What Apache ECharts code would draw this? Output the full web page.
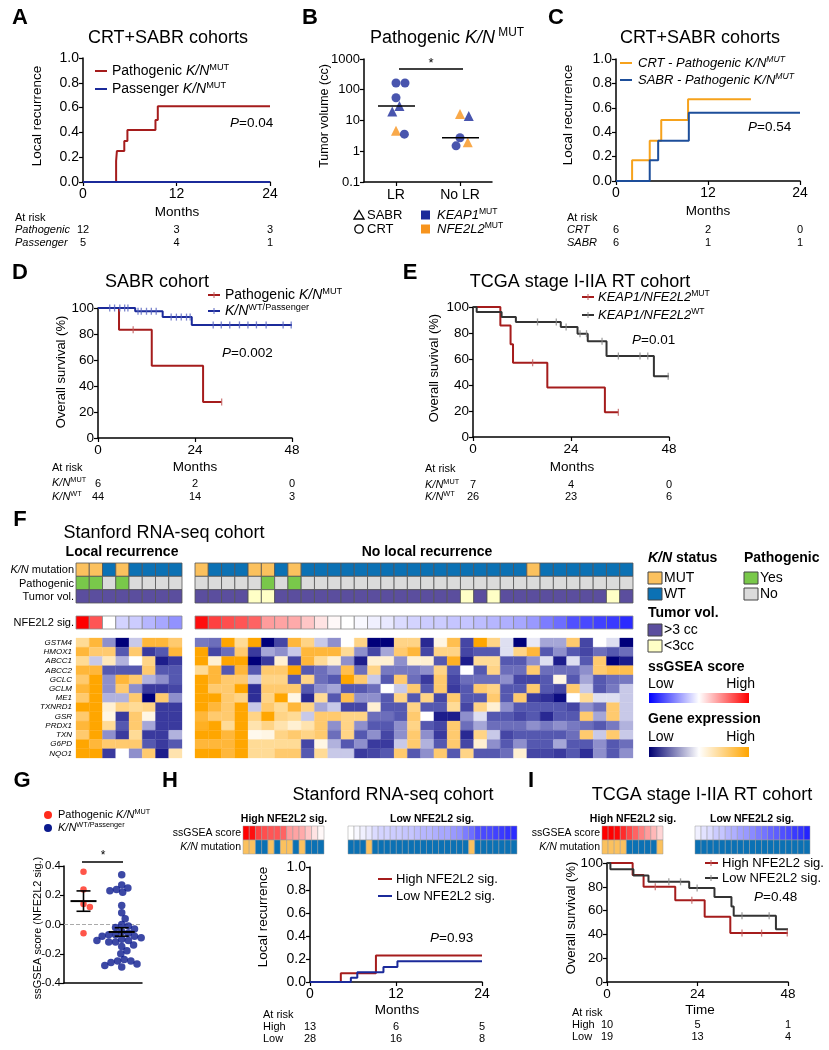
<!DOCTYPE html>
<html><head><meta charset="utf-8">
<script src="https://cdn.jsdelivr.net/npm/echarts@6/dist/echarts.min.js"></script>
<style>html,body{margin:0;padding:0;background:#fff}#c{width:829px;height:1050px}</style>
</head><body><div id="c"></div>
<script>
// ================= DATA =================
// Panel A
const aTicks = [0, 12, 24];
const aPathT = [0, 4.25, 4.35, 5.3, 5.7, 9.3, 9.6, 24];
const aPathV = [0, 0.17, 0.25, 0.33, 0.42, 0.5, 0.61, 0.61];
const aPassT = [0, 24];
const aPassV = [0, 0];
const aRiskPath = [12, 3, 3];
const aRiskPass = [5, 4, 1];
// Panel B
const bGroups = ['LR', 'No LR'];
const bVolume = [166, 166, 55, 29.5, 19.6, 4.6, 3.6, 16.4, 14, 2.75, 1.95, 1.5];
const bGroupIdx = [0, 0, 0, 0, 0, 0, 0, 1, 1, 1, 1, 1];
const bCohort = ['CRT','CRT','CRT','SABR','SABR','SABR','CRT','SABR','SABR','CRT','SABR','CRT'];
const bGene = ['KEAP1','KEAP1','KEAP1','KEAP1','KEAP1','NFE2L2','KEAP1','NFE2L2','KEAP1','KEAP1','NFE2L2','KEAP1'];
// Panel C
const cCrtT = [0, 2.1, 4.4, 5.9, 9.4, 17.6];
const cCrtV = [0, 0.17, 0.33, 0.5, 0.67, 0.67];
const cSabrT = [0, 4.4, 5.5, 9.5, 24];
const cSabrV = [0, 0.17, 0.33, 0.56, 0.56];
const cRiskCrt = [6, 2, 0];
const cRiskSabr = [6, 1, 1];
// Panel D
const survTicks = [0, 24, 48];
const dPathT = [0, 5.2, 13.3, 26, 30.6];
const dPathV = [100, 83.3, 55.5, 27.7, 27.7];
const dPathCens = [8.7, 30.6];
const dWtT = [0, 9.2, 16, 23.2, 48];
const dWtV = [100, 97.5, 93, 87, 87];
const dWtCens = [2.9, 4.1, 5.4, 6.6, 7.4, 9.9, 10.7, 12, 13.2, 14.4, 18.1, 19.4, 20.6, 21.9, 22.8, 28.5, 30.5, 32.6, 35, 37.1, 39.2, 41.6, 45.8, 47.8];
const dRiskMut = [6, 2, 0];
const dRiskWt = [44, 14, 3];
// Panel E
const eMutT = [0, 6.7, 9.2, 9.8, 18.2, 32.3, 35.6];
const eMutV = [100, 85.7, 71.4, 57.1, 38.1, 19, 19];
const eMutCens = [14.6, 35.6];
const eWtT = [0, 0.9, 7, 10.5, 21.5, 25.6, 28.1, 32.7, 44.3, 48];
const eWtV = [100, 96.2, 92.3, 88.5, 84.6, 79.5, 73.6, 62.3, 46.7, 46.7];
const eWtCens = [15.8, 20.4, 22.8, 26.2, 27.8, 31.6, 35.6, 40.9, 42.8, 47.8];
const eRiskMut = [7, 4, 0];
const eRiskWt = [26, 23, 6];
// Panel F
const geneNames = ['GSTM4','HMOX1','ABCC1','ABCC2','GCLC','GCLM','ME1','TXNRD1','GSR','PRDX1','TXN','G6PD','NQO1'];
const lrKN    = [1,1,0,1,0,0,0,0];
const lrPath  = [1,1,0,1,0,0,0,0];
const lrTumor = [1,1,1,1,1,1,1,1];
const nlrKN    = [1,0,0,0,1,1,0,1,0,0,0,0,0,0,0,0,0,0,0,0,0,0,0,0,0,1,0,0,0,0,0,0,0];
const nlrPath  = [0,0,0,0,0,1,0,1,0,0,0,0,0,0,0,0,0,0,0,0,0,0,0,0,0,0,0,0,0,0,0,0,0];
const nlrTumor = [1,1,1,1,0,0,1,1,1,1,1,1,1,1,1,1,1,1,1,1,0,1,0,1,1,1,1,1,1,1,1,0,1];
const lrSig  = [0.36, 0.24, 0.0, -0.06, -0.07, -0.1, -0.12, -0.15];
const nlrSig = [0.34, 0.27, 0.25, 0.24, 0.22, 0.14, 0.13, 0.12, 0.08, 0.04, 0.01, 0.0, -0.01, -0.02, -0.03, -0.05, -0.06, -0.07, -0.07, -0.08, -0.08, -0.09, -0.1, -0.11, -0.12, -0.14, -0.18, -0.2, -0.24, -0.25, -0.26, -0.27, -0.29];
const lrGenes = [
  [1, 2, -1, -3, -0.5, 2, 2, 1.5],
  [2, 1.5, 1.5, -1.5, 1.5, -2, -1.5, 2],
  [1, -0.5, 0.7, -0.7, 0, 1.2, -2.5, -2],
  [2, 2, -1.5, -1.5, -1.5, 1.5, -1.5, -1.5],
  [1.5, 2.5, -1, 2, 1.5, -0.7, -1, -1.5],
  [2, 2.5, -1, 1.5, -1, -2, -2, -1.8],
  [1.5, 2.5, -0.7, -0.7, 1.5, -3, 1.5, -1],
  [2.5, 2.5, 0.5, 1.2, 1, 1.2, -2, -2],
  [1.5, 2.5, 0.3, -2, 1.5, 0.3, -2, -2],
  [2, 2.5, 1, -1.5, 1.5, -0.8, -2, -2],
  [1.5, 2.5, -1, -2, 1, -2, -2, -0.7],
  [2.5, 2, 1.5, 1.5, 1.5, -1.5, -2, -1.5],
  [2.5, 2.5, -2, 0, -1, 1.5, -2.5, 0.8]
];
const nlrGenes = [
  [-1.2,-1.3,2.5,1,2.5,-3,-1.8,2,1.2,-0.5,-1,0,1.2,-3,-3,1.2,1.2,-2.3,0.3,1.8,-1.8,2.5,1.2,-0.3,-3,-0.2,-0.8,-0.8,1.5,-1.8,0,-0.3,-3],
  [2.5,-1.8,-1.3,1.5,-2,-0.8,-1,-0.5,2,2,2,1,-1,-1.8,-0.8,1.5,2,-1.8,1.2,1.2,-1.8,-1.5,-1.5,-0.3,1.2,2,-1.5,-1,-1.5,-1.8,-1.3,-1.5,-1.3],
  [2.5,0.5,2.5,2.5,-3,-2,0.5,-1.8,2,1,0.5,-1,-2.5,0.5,0.5,-1,0.5,0.5,-1.5,2.2,-2.5,1,1,-1.5,-1.5,-1,-0.3,-2.5,-0.3,-1.5,1.5,-3,-2.5],
  [1,2,-1.5,2,-1.5,1.5,1.5,2.5,-1.5,-1.3,-1,1.8,-1.3,1.2,-1.2,-1.2,-1.2,-1,1.2,-1.5,0,-1.5,1.2,-1.3,-1.3,1.5,-1.3,-1.3,-1.3,-1,1.5,1.8,1.8],
  [2.5,2,1.5,1.5,-0.5,1.2,1.2,-1.5,1.2,-1.3,-1.5,2.5,1.5,-0.5,-1.5,1.5,-1.3,-2,1.5,-1.8,-1.3,-1.3,-1.3,-1,-1.8,-1.8,-1.5,0.3,-1.5,-0.8,-1.5,-1.3,-1.2],
  [2.5,1.5,1.5,2.5,-2.2,1.5,1.5,1.5,-1.5,-1,-0.8,-1.5,-1.5,-1.3,0,-0.5,1.5,-1.5,1.5,-2,-1.5,1.5,1.2,-1.5,-1.5,1.5,-1.5,-1.8,1.5,-0.5,-1.5,-1.2,-0.5],
  [2.5,2.5,1.5,1.2,-2.2,1.2,2.5,0.3,-2.3,1,-1.5,1.8,-1,-1,-1.5,1.2,-1.5,1.2,-1.8,1.5,-1.5,-1.5,1.5,-1.5,1.5,-2,-2.2,-2.8,0,1,-0.3,-0.3,-0.5],
  [2.5,2,1.5,2.5,-0.5,1.5,1,2,1.2,-0.8,-0.5,-1.8,-1.8,0.5,-1.5,-1.5,1.2,-1.5,-1.5,1,-1.8,1.2,0.5,-1,-1.5,-1.5,-1.5,-1.5,-1.8,-1,-1.3,1.5,-0.5],
  [2,1.5,1.5,2.5,1.2,2.5,1.2,1,-0.5,1.5,1.5,1.2,1.2,-1.3,-1.3,-1.5,1.5,0,-2.5,-2.5,-1,-0.3,-1.5,-1.5,-1.8,-1.5,-2.3,-1.5,-1.5,1.5,-0.8,1.5,-0.5],
  [2.2,2.5,1,2.5,0.8,1.2,0.8,0.5,0.8,1.5,-1,1.2,-1,-1.5,-1.5,-1,1.2,-1.5,-1.8,1.5,-1.3,-0.8,-1.3,-1.3,-1.3,-1,-1.2,-1,-1.2,-1.3,-1.5,-1.2,-0.7],
  [2.5,2.5,2,2.5,0.2,0.3,1.2,1.5,1.2,1.5,-1.3,1.2,-1.5,-1,-1.8,-1,1.5,-1,-2,1.5,-2.3,1.2,-0.5,-1.8,-1.5,-1.5,-1.5,-1.5,-1.3,1.5,-0.5,1.5,-0.5],
  [2,2,2,2.5,1,1,1,1,-1.8,0.3,-0.7,-1.5,-1,-2,-2,-0.5,1.5,-0.7,-1.5,1.5,-1.8,0.5,-1,-1.5,-1,-1.5,-1.5,-0.8,-1.5,-1.5,-1,-1.5,-1.3],
  [2.5,2.5,2,2.5,1,1,1.5,1.5,-1.5,1,-0.5,-0.5,-2,-1.8,-1.5,1.5,-1.5,-1,1.5,-1.5,1.2,-1.5,-1.5,-1.3,0.5,-1.8,-1.8,-2,-1.5,-2.2,-1,-1.5,-1]
];
// Panel G
const gRed  = [0.36, 0.24, 0.14, 0.12, -0.06];
const gBlue = [0.34, 0.27, 0.25, 0.24, 0.23, 0.22, 0.13, 0.08, 0.04, 0.0, -0.01, -0.02, -0.03, -0.05, -0.06, -0.07, -0.07, -0.08, -0.08, -0.09, -0.1, -0.11, -0.11, -0.12, -0.12, -0.14, -0.15, -0.18, -0.2, -0.24, -0.25, -0.25, -0.26, -0.27, -0.28, -0.29];
// Panel H
const hSigHigh = [0.36, 0.34, 0.27, 0.25, 0.24, 0.24, 0.22, 0.14, 0.13, 0.12, 0.08, 0.04, 0.01];
const hKNHigh  = [1,1,0,0,1,0,1,1,0,1,0,0,0];
const hSigLow  = [0.0, -0.01, -0.02, -0.03, -0.05, -0.06, -0.06, -0.07, -0.07, -0.08, -0.08, -0.09, -0.1, -0.1, -0.11, -0.12, -0.12, -0.14, -0.15, -0.18, -0.2, -0.24, -0.25, -0.25, -0.26, -0.27, -0.28, -0.29];
const hKNLow   = [0,0,0,1,0,0,0,0,0,0,0,0,0,0,0,0,0,0,0,0,1,0,0,0,0,0,0,0];
const hHighT = [0, 4.3, 9.2, 24];
const hHighV = [0, 0.077, 0.23, 0.23];
const hLowT = [0, 5.7, 6.6, 10.25, 12.2, 24];
const hLowV = [0, 0.036, 0.085, 0.13, 0.18, 0.18];
const hRiskHigh = [13, 6, 5];
const hRiskLow = [28, 16, 8];
// Panel I
const iSigHigh = [0.42, 0.38, 0.35, 0.3, 0.26, 0.22, 0.18, 0.14, 0.1, 0.06];
const iKNHigh  = [1,1,1,1,0,0,0,0,0,1];
const iSigLow  = [-0.02, -0.04, -0.05, -0.07, -0.08, -0.1, -0.11, -0.13, -0.14, -0.16, -0.18, -0.19, -0.21, -0.22, -0.24, -0.25, -0.27, -0.28, -0.3];
const iKNLow   = [0,0,0,0,0,0,0,0,0,0,0,0,0,0,0,0,0,0,0];
const iHighT = [0, 6.8, 9.7, 18.1, 25.9, 32.7, 48];
const iHighV = [100, 90, 80, 68.6, 54.9, 41.1, 41.1];
const iHighCens = [12.8, 22.5, 35.8, 41, 47.8];
const iLowT = [0, 0.9, 7, 11, 21.8, 28.5, 33, 33.6, 44.8, 48];
const iLowV = [100, 94.7, 89.5, 84.2, 78.9, 71.4, 63.5, 55.6, 44.4, 44.4];
const iLowCens = [16.4, 19.5, 23.9, 35.8, 43];
const iRiskHigh = [10, 5, 1];
const iRiskLow = [19, 13, 4];

// ================= STYLE =================
const FF = '"Liberation Sans", Arial, Helvetica, sans-serif';
const RED = '#a51c1c', NAVY = '#1b2a9a', ORANGE = '#f6a21c', CBLUE = '#1d4e9a', DARK = '#333333';
const MUTc = '#fbc15e', WTc = '#0b71b4', YESc = '#79c84a', NOc = '#dbdbdb', BIGc = '#5b4e9e', SMALLc = '#ffffc6';
const sigStops = [[-0.3, '#2424ff'], [0, '#ffffff'], [0.36, '#ff0000']];
const geneStops = [[-3,'#00007a'],[-2,'#3a3a9e'],[-1.5,'#5558b0'],[-1,'#8e8fcc'],[-0.5,'#c8c9e8'],[0,'#ffffff'],[0.5,'#fff0d2'],[1,'#ffdb96'],[1.5,'#ffca6e'],[2,'#ffb73a'],[2.5,'#ffa600']];

function hex2rgb(h){ h=h.replace('#',''); return [parseInt(h.slice(0,2),16),parseInt(h.slice(2,4),16),parseInt(h.slice(4,6),16)]; }
function ramp(stops, v){
  if (v <= stops[0][0]) return stops[0][1];
  const last = stops[stops.length-1]; if (v >= last[0]) return last[1];
  for (let i=1;i<stops.length;i++){ if (v <= stops[i][0]) { const a=stops[i-1][0], b=stops[i][0]; const f=(v-a)/(b-a); const A=hex2rgb(stops[i-1][1]), B=hex2rgb(stops[i][1]); return 'rgb('+A.map((x,k)=>Math.round(x+(B[k]-x)*f)).join(',')+')'; } }
  return last[1];
}

// ================= LAYOUT HELPERS =================
const grids=[], xAxes=[], yAxes=[], series=[], G=[];
const GR = {};
function addGrid(name, r){ GR[name]=r; grids.push({left:r[0], top:r[1], width:r[2], height:r[3], containLabel:false, outerBoundsMode:'none'}); return grids.length-1; }
const axLine = {show:true, onZero:false, lineStyle:{color:'#000', width:1.5}};
function axTick(show){ return {show, length:4, inside:false, alignWithLabel:true, lineStyle:{color:'#000', width:1.2}}; }
function axLab(fs, fmt, margin){ const o={show:true, fontSize:fs, fontFamily:FF, color:'#000', margin: margin==null?4:margin}; if (fmt) o.formatter=fmt; return o; }
function kmGrid(name, r, xmax, xint, ymax, yint, fs, yfmt){
  const g = addGrid(name, r);
  xAxes.push({gridIndex:g, type:'value', position:'bottom', min:0, max:xmax, interval:xint, axisLine:axLine, axisTick:axTick(true), axisLabel:axLab(fs,null,5), splitLine:{show:false}});
  yAxes.push({gridIndex:g, type:'value', position:'left', min:0, max:ymax, interval:yint, axisLine:axLine, axisTick:axTick(true), axisLabel:axLab(fs,yfmt,4), splitLine:{show:false}});
  return g;
}
function heatGrid(name, r, ncol, nrow){
  const g = addGrid(name, r);
  xAxes.push({gridIndex:g, type:'category', data:[...Array(ncol).keys()], show:false});
  yAxes.push({gridIndex:g, type:'category', data:[...Array(nrow).keys()], show:false, inverse:true});
  return g;
}
function kmLine(g, ts, vs, color){
  series.push({type:'line', xAxisIndex:g, yAxisIndex:g, step:'end', symbol:'none', clip:false, silent:true, z:3,
    data: ts.map((t,i)=>[t, vs[i]]), lineStyle:{color, width:2}, itemStyle:{color}});
}
function kmAt(ts, vs, t){ let v=vs[0]; for (let i=0;i<ts.length;i++) if (ts[i] <= t) v = vs[i]; return v; }
function censor(g, ts, vs, cens, color){
  series.push({type:'scatter', xAxisIndex:g, yAxisIndex:g, symbol:'rect', symbolSize:[1.3,7], clip:false, silent:true, z:4,
    data: cens.map(t=>[t, kmAt(ts,vs,t)]), itemStyle:{color}});
}
function cells(g, data, colorFn, stroke, sw){
  series.push({type:'custom', xAxisIndex:g, yAxisIndex:g, data, silent:true, clip:false, z:2,
    renderItem: function(params, api){
      const x=api.value(0), y=api.value(1), v=api.value(2);
      const c=api.coord([x,y]), s=api.size([1,1]);
      const fill = colorFn(v, y);
      return {type:'rect', shape:{x:c[0]-s[0]/2, y:c[1]-s[1]/2, width:s[0], height:s[1]},
        style:{fill, stroke: stroke || fill, lineWidth: stroke ? sw : 0.3}};
    }});
}
function swarm(vals, d, toPx){
  const order = vals.map((v,i)=>i).sort((a,b)=>vals[b]-vals[a]);
  const placed=[], off=new Array(vals.length);
  for (const i of order){
    const y = toPx(vals[i]); const cands=[0];
    for (const p of placed){ const dy=Math.abs(p.y-y); if (dy<d){ const dx=Math.sqrt(d*d-dy*dy); cands.push(p.x+dx, p.x-dx); } }
    cands.sort((a,b)=>Math.abs(a)-Math.abs(b));
    let chosen=0;
    for (const c of cands){ if (placed.every(p=>(p.x-c)*(p.x-c)+(p.y-y)*(p.y-y) >= d*d-0.01)) { chosen=c; break; } }
    placed.push({x:chosen, y}); off[i]=chosen;
  }
  return off;
}
function rich(fs, c){
  c = c || '#000';
  const base = {fontFamily:FF, fontSize:fs, lineHeight:Math.round(fs*1.2), fill:c, color:c};
  const sfs = Math.round(fs*0.66*10)/10, slh = Math.round(fs*0.62);
  return {
    n: Object.assign({}, base),
    i: Object.assign({}, base, {fontStyle:'italic'}),
    b: Object.assign({}, base, {fontWeight:'bold'}),
    bi: Object.assign({}, base, {fontWeight:'bold', fontStyle:'italic'}),
    s: {fontFamily:FF, fontSize:sfs, lineHeight:slh, verticalAlign:'top', fill:c, color:c},
    si: {fontFamily:FF, fontSize:sfs, lineHeight:slh, verticalAlign:'top', fontStyle:'italic', fill:c, color:c}
  };
}
function T(x, y, text, fs, o){
  o = o || {};
  G.push({type:'text', x, y, rotation:o.rot||0, z:100, silent:true,
    style:{text, fontFamily:FF, fontSize:fs, fontWeight:o.fw||'normal', fontStyle:o.it?'italic':'normal', fill:o.c||'#000',
      align:o.al||'left', verticalAlign:'middle', rich:rich(fs, o.c)}});
}
function L(x1,y1,x2,y2,color,w,dash){
  G.push({type:'line', z:100, silent:true, shape:{x1,y1,x2,y2}, style:{stroke:color||'#000', lineWidth:w||1.5, lineDash: dash||null}});
}
function Rc(x,y,w,h,fill,stroke,sw){
  G.push({type:'rect', z:100, silent:true, shape:{x,y,width:w,height:h}, style:{fill, stroke:stroke||null, lineWidth:sw||1}});
}
function risk(name, xmax, ticks, y, vals, fs){
  const r = GR[name];
  vals.forEach((v,i)=>T(r[0] + ticks[i]/xmax*r[2], y, String(v), fs, {al:'center'}));
}
const fmt1 = v => v.toFixed(1);

// ================= GRIDS =================
const gA = kmGrid('A', [83, 58, 187, 124], 24, 12, 1, 0.2, 14, fmt1);
// B
const gB = addGrid('B', [364, 59, 128, 123]);
xAxes.push({gridIndex:gB, type:'value', position:'bottom', min:-0.5, max:1.5, show:false});
yAxes.push({gridIndex:gB, type:'log', position:'left', logBase:10, min:0.1, max:1000, axisLine:axLine, axisTick:axTick(true),
  axisLabel:axLab(13, v => v >= 1 ? String(Math.round(v)) : String(+(+v).toPrecision(2)), 4), splitLine:{show:false}, minorTick:{show:false}});
const gC = kmGrid('C', [616, 59, 184, 122], 24, 12, 1, 0.2, 14, fmt1);
const gD = kmGrid('D', [98, 308, 194, 130], 48, 24, 100, 20, 13.5);
const gE = kmGrid('E', [473, 307, 196, 130], 48, 24, 100, 20, 13.5);
const gFLa = heatGrid('FLa', [76, 563, 106, 40], 8, 3);
const gFNa = heatGrid('FNa', [195, 563, 438, 40], 33, 3);
const gFLs = heatGrid('FLs', [76, 616, 106, 13], 8, 1);
const gFNs = heatGrid('FNs', [195, 616, 438, 13], 33, 1);
const gFLg = heatGrid('FLg', [76, 638, 106, 120], 8, 13);
const gFNg = heatGrid('FNg', [195, 638, 438, 120], 33, 13);
// G
const gG = addGrid('G', [64, 866, 78, 117]);
xAxes.push({gridIndex:gG, type:'value', position:'bottom', min:0, max:1, axisLine:axLine, axisTick:{show:false}, axisLabel:{show:false}, splitLine:{show:false}});
yAxes.push({gridIndex:gG, type:'value', position:'left', min:-0.4, max:0.4, interval:0.2, axisLine:axLine, axisTick:axTick(true), axisLabel:axLab(11.5, fmt1, 3), splitLine:{show:false}});
const gH = kmGrid('H', [310, 867, 172, 115], 24, 12, 1, 0.2, 14, fmt1);
const gHh = heatGrid('Hh', [243, 826, 81, 28], 13, 2);
const gHl = heatGrid('Hl', [348, 826, 169, 28], 28, 2);
const gI = kmGrid('I', [607, 863, 181, 119], 48, 24, 100, 20, 13.5);
const gIh = heatGrid('Ih', [602, 826, 61, 28], 10, 2);
const gIl = heatGrid('Il', [695, 826, 115, 28], 19, 2);
// B category axis (labels), kept at the bottom
const bCatAx = xAxes.length;
xAxes.push({gridIndex:gB, type:'category', position:'bottom', data:bGroups, boundaryGap:true, axisLine:axLine, axisTick:axTick(true), axisLabel:axLab(14, null, 6)});

// ================= SERIES =================
// A
kmLine(gA, aPathT, aPathV, RED);
kmLine(gA, aPassT, aPassV, NAVY);
// B points (beeswarm within group)
const bLogPx = v => Math.log10(v) * 30.75;
const bPosPx = new Array(bVolume.length);
[0,1].forEach(gi => {
  const idx = bVolume.map((v,i)=>i).filter(i=>bGroupIdx[i]===gi);
  const off = swarm(idx.map(i=>bVolume[i]), 9, bLogPx);
  idx.forEach((i,k)=>{ bPosPx[i]=off[k]; });
});
series.push({type:'scatter', xAxisIndex:gB, yAxisIndex:gB, silent:true, z:4, clip:false,
  data: bVolume.map((v,i)=>({value:[bGroupIdx[i] + bPosPx[i]/64, v],
    symbol: bCohort[i]==='SABR' ? 'triangle' : 'circle', symbolSize: bCohort[i]==='SABR' ? 10 : 9,
    itemStyle:{color: bGene[i]==='KEAP1' ? NAVY : '#f7941d'}}))});
function median(a){ const s=a.slice().sort((x,y)=>x-y); const m=Math.floor(s.length/2); return s.length%2 ? s[m] : (s[m-1]+s[m])/2; }
const bMed = [0,1].map(gi => [gi, median(bVolume.filter((v,i)=>bGroupIdx[i]===gi))]);
series.push({type:'custom', xAxisIndex:gB, yAxisIndex:gB, data:bMed, silent:true, z:5, clip:false,
  renderItem(p, api){ const c=api.coord([api.value(0), api.value(1)]);
    return {type:'line', shape:{x1:c[0]-18, y1:c[1], x2:c[0]+19, y2:c[1]}, style:{stroke:'#000', lineWidth:1.6}}; }});
// C
kmLine(gC, cCrtT, cCrtV, ORANGE);
kmLine(gC, cSabrT, cSabrV, CBLUE);
// D
kmLine(gD, dPathT, dPathV, RED); censor(gD, dPathT, dPathV, dPathCens, '#c06060');
kmLine(gD, dWtT, dWtV, NAVY); censor(gD, dWtT, dWtV, dWtCens, '#5a66c0');
// E
kmLine(gE, eMutT, eMutV, RED); censor(gE, eMutT, eMutV, eMutCens, '#c06060');
kmLine(gE, eWtT, eWtV, DARK); censor(gE, eWtT, eWtV, eWtCens, '#888888');
// F annotation strips
const annotColor = (v, row) => row===0 ? (v ? MUTc : WTc) : row===1 ? (v ? YESc : NOc) : (v ? BIGc : SMALLc);
function annotData(kn, pa, tu){ const d=[]; kn.forEach((v,i)=>{ d.push([i,0,kn[i]],[i,1,pa[i]],[i,2,tu[i]]); }); return d; }
cells(gFLa, annotData(lrKN, lrPath, lrTumor), annotColor, '#555555', 0.8);
cells(gFNa, annotData(nlrKN, nlrPath, nlrTumor), annotColor, '#555555', 0.8);
const sigColor = v => ramp(sigStops, v);
cells(gFLs, lrSig.map((v,i)=>[i,0,v]), sigColor, '#8a8a8a', 0.8);
cells(gFNs, nlrSig.map((v,i)=>[i,0,v]), sigColor, '#8a8a8a', 0.8);
const geneColor = v => ramp(geneStops, v);
function geneData(m){ const d=[]; m.forEach((row,g)=>row.forEach((v,i)=>d.push([i,g,v]))); return d; }
cells(gFLg, geneData(lrGenes), geneColor);
cells(gFNg, geneData(nlrGenes), geneColor);
// G
const gYpx = v => v * 146.25;
const gOffR = swarm(gRed, 7, gYpx), gOffB = swarm(gBlue, 6.8, gYpx);
const gCR = 0.25, gCB = 0.74;
series.push({type:'scatter', xAxisIndex:gG, yAxisIndex:gG, silent:true, z:3, symbolSize:6.5, clip:false,
  data: gRed.map((v,i)=>[gCR + gOffR[i]/78, v]), itemStyle:{color:'#ff2b1c'},
  markLine:{silent:true, symbol:'none', label:{show:false}, data:[{yAxis:0}], lineStyle:{type:'dashed', color:'#aaaaaa', width:1}, z:1}});
series.push({type:'scatter', xAxisIndex:gG, yAxisIndex:gG, silent:true, z:3, symbolSize:7.5, clip:false,
  data: gBlue.map((v,i)=>[gCB + gOffB[i]/78, v]), itemStyle:{color:'#0b1a8e'}});
function meanSem(a){ const m=a.reduce((s,x)=>s+x,0)/a.length; const sd=Math.sqrt(a.reduce((s,x)=>s+(x-m)*(x-m),0)/(a.length-1)); return [m, sd/Math.sqrt(a.length)]; }
const msR = meanSem(gRed), msB = meanSem(gBlue);
series.push({type:'custom', xAxisIndex:gG, yAxisIndex:gG, silent:true, z:6, clip:false,
  data:[[gCR, msR[0], msR[1]], [gCB, msB[0], msB[1]]],
  renderItem(p, api){
    const x=api.value(0), m=api.value(1), s=api.value(2);
    const c=api.coord([x,m]), t=api.coord([x,m+s]), b=api.coord([x,m-s]);
    const st={stroke:'#000', lineWidth:1.6};
    return {type:'group', children:[
      {type:'line', shape:{x1:c[0]-13,y1:c[1],x2:c[0]+13,y2:c[1]}, style:{stroke:'#000', lineWidth:2}},
      {type:'line', shape:{x1:c[0],y1:t[1],x2:c[0],y2:b[1]}, style:st},
      {type:'line', shape:{x1:c[0]-7,y1:t[1],x2:c[0]+7,y2:t[1]}, style:st},
      {type:'line', shape:{x1:c[0]-7,y1:b[1],x2:c[0]+7,y2:b[1]}, style:st}]};
  }});
// H
const stripColor = (v,row) => row===0 ? ramp(sigStops, v) : (v ? MUTc : WTc);
function stripData(sig, kn){ const d=[]; sig.forEach((v,i)=>{ d.push([i,0,sig[i]],[i,1,kn[i]]); }); return d; }
cells(gHh, stripData(hSigHigh, hKNHigh), stripColor, '#9a9a9a', 0.5);
cells(gHl, stripData(hSigLow, hKNLow), stripColor, '#9a9a9a', 0.5);
kmLine(gH, hHighT, hHighV, RED);
kmLine(gH, hLowT, hLowV, NAVY);
// I
cells(gIh, stripData(iSigHigh, iKNHigh), stripColor, '#9a9a9a', 0.5);
cells(gIl, stripData(iSigLow, iKNLow), stripColor, '#9a9a9a', 0.5);
kmLine(gI, iHighT, iHighV, RED); censor(gI, iHighT, iHighV, iHighCens, '#c06060');
kmLine(gI, iLowT, iLowV, DARK); censor(gI, iLowT, iLowV, iLowCens, '#888888');

// ================= TEXT / ANNOTATIONS =================
[['A',20,18],['B',310,18],['C',556,18],['D',20,273],['E',410,273],['F',20,520],['G',22,781],['H',170,781],['I',531,781]]
  .forEach(l => T(l[1], l[2], l[0], 22, {fw:'bold', al:'center'}));
T(168, 38, 'CRT+SABR cohorts', 18, {al:'center'});
T(447, 38, '{n|Pathogenic }{i|K/N}{s| MUT}', 18, {al:'center'});
T(700, 38, 'CRT+SABR cohorts', 18, {al:'center'});
T(157, 282, 'SABR cohort', 18, {al:'center'});
T(580, 282, 'TCGA stage I-IIA RT cohort', 18, {al:'center'});
T(164, 533, 'Stanford RNA-seq cohort', 18, {al:'center'});
T(393, 795, 'Stanford RNA-seq cohort', 18, {al:'center'});
T(702, 795, 'TCGA stage I-IIA RT cohort', 18, {al:'center'});
const R90 = Math.PI/2;
T(37, 116, 'Local recurrence', 13.5, {al:'center', rot:R90});
T(325, 116, 'Tumor volume (cc)', 12.5, {al:'center', rot:R90});
T(568, 115, 'Local recurrence', 13.5, {al:'center', rot:R90});
T(61, 372, 'Overall survival (%)', 13, {al:'center', rot:R90});
T(434, 368, 'Overall suvival (%)', 13, {al:'center', rot:R90});
T(38, 928, 'ssGSEA score (NFE2L2 sig.)', 11, {al:'center', rot:R90});
T(263, 917, 'Local recurrence', 13.5, {al:'center', rot:R90});
T(571, 918, 'Overall survival (%)', 13, {al:'center', rot:R90});
T(177, 212, 'Months', 13.5, {al:'center'});
T(708, 211, 'Months', 13.5, {al:'center'});
T(195, 467, 'Months', 13.5, {al:'center'});
T(572, 467, 'Months', 13.5, {al:'center'});
T(397, 1010, 'Months', 13.5, {al:'center'});
T(700, 1010, 'Time', 13.5, {al:'center'});
// legends
L(95,71,107,71,RED,2); T(112,71,'{n|Pathogenic }{i|K/N}{s|MUT}',14);
L(95,89,107,89,NAVY,2); T(112,89,'{n|Passenger }{i|K/N}{s|MUT}',14);
L(620,63,632,63,ORANGE,2); T(638,63,'{i|CRT - Pathogenic K/N}{si|MUT}',13);
L(620,80,632,80,CBLUE,2); T(638,80,'{i|SABR - Pathogenic K/N}{si|MUT}',13);
L(208,295,220,295,RED,2); L(214,292,214,298,'#c06060',1); T(225,295,'{n|Pathogenic }{i|K/N}{s|MUT}',14);
L(208,311,220,311,NAVY,2); L(214,308,214,314,'#5a66c0',1); T(225,311,'{i|K/N}{s|WT/Passenger}',14);
L(582,297,594,297,RED,2); L(588,294,588,300,'#c06060',1); T(598,297,'{i|KEAP1/NFE2L2}{s|MUT}',13);
L(582,315,594,315,DARK,2); L(588,312,588,318,'#888',1); T(598,315,'{i|KEAP1/NFE2L2}{s|WT}',13);
L(378,879,392,879,RED,2); T(396,879,'High NFE2L2 sig.',13);
L(378,896,392,896,NAVY,2); T(396,896,'Low NFE2L2 sig.',13);
L(705,863,718,863,RED,2); L(711,860,711,866,'#c06060',1); T(722,863,'High NFE2L2 sig.',13);
L(705,878,718,878,DARK,2); L(711,875,711,881,'#888',1); T(722,878,'Low NFE2L2 sig.',13);
// P values
T(230,123,'{i|P}{n|=0.04}',13.5);
T(748,127,'{i|P}{n|=0.54}',13.5);
T(222,353,'{i|P}{n|=0.002}',13.5);
T(632,340,'{i|P}{n|=0.01}',13.5);
T(430,938,'{i|P}{n|=0.93}',13.5);
T(754,897,'{i|P}{n|=0.48}',13.5);
// at risk tables
T(15,218,'At risk',11); T(15,230,'Pathogenic',11,{it:true}); T(15,243,'Passenger',11,{it:true});
risk('A',24,aTicks,230,aRiskPath,11); risk('A',24,aTicks,243,aRiskPass,11);
T(567,218,'At risk',11); T(567,230,'CRT',11,{it:true}); T(567,243,'SABR',11,{it:true});
risk('C',24,aTicks,230,cRiskCrt,11); risk('C',24,aTicks,243,cRiskSabr,11);
T(52,468,'At risk',11); T(52,483,'{i|K/N}{s|MUT}',11); T(52,497,'{i|K/N}{s|WT}',11);
risk('D',48,survTicks,484,dRiskMut,11); risk('D',48,survTicks,497,dRiskWt,11);
T(425,469,'At risk',11); T(425,485,'{i|K/N}{s|MUT}',11); T(425,497,'{i|K/N}{s|WT}',11);
risk('E',48,survTicks,485,eRiskMut,11); risk('E',48,survTicks,497,eRiskWt,11);
T(263,1015,'At risk',11); T(263,1027,'High',11); T(263,1039,'Low',11);
risk('H',24,aTicks,1027,hRiskHigh,11); risk('H',24,aTicks,1039,hRiskLow,11);
T(572,1013,'At risk',11); T(572,1025,'High',11); T(572,1037,'Low',11);
risk('I',48,survTicks,1025,iRiskHigh,11); risk('I',48,survTicks,1037,iRiskLow,11);
// B legend + significance
G.push({type:'polygon', z:100, silent:true, shape:{points:[[359,210.5],[354,219],[364,219]]}, style:{fill:null, stroke:'#000', lineWidth:1.3}});
T(367,215,'SABR',13);
G.push({type:'circle', z:100, silent:true, shape:{cx:359, cy:229, r:4.2}, style:{fill:null, stroke:'#000', lineWidth:1.3}});
T(367,229,'CRT',13);
Rc(421,210.5,9,9,NAVY); T(437,215,'{i|KEAP1}{s|MUT}',13);
Rc(421,224.5,9,9,'#f7941d'); T(437,229,'{i|NFE2L2}{s|MUT}',13);
L(399,69,463,69,'#000',1.5); T(431,63,'*',13,{al:'center'});
// F labels
T(122,552,'{b|Local recurrence}',14,{al:'center'});
T(427,552,'{b|No local recurrence}',14,{al:'center'});
T(74,570,'{i|K/N}{n| mutation}',11,{al:'right'});
T(74,583.5,'Pathogenic',11,{al:'right'});
T(74,596.5,'Tumor vol.',11,{al:'right'});
T(74,622.5,'NFE2L2 sig.',11,{al:'right'});
geneNames.forEach((g,i)=>T(72, 638 + (i+0.5)*120/13, g, 8, {al:'right', it:true}));
// F legend
T(648,558,'{bi|K/N}{b| status}',14);
Rc(648,572,14,12,MUTc,'#444',1); T(664,578,'MUT',14);
Rc(648,588,14,12,WTc,'#444',1); T(664,594,'WT',14);
T(744,558,'{b|Pathogenic}',14);
Rc(744,572,14,12,YESc,'#444',1); T(760,578,'Yes',14);
Rc(744,588,14,12,NOc,'#444',1); T(760,594,'No',14);
T(648,613,'{b|Tumor vol.}',14);
Rc(648,624,14,12,BIGc,'#444',1); T(664,630,'>3 cc',14);
Rc(648,640,14,12,SMALLc,'#444',1); T(664,646,'<3cc',14);
T(648,667,'{b|ssGSEA score}',14);
T(648,684,'Low',14); T(755,684,'High',14,{al:'right'});
Rc(649,693,100,10,{type:'linear',x:0,y:0,x2:1,y2:0,colorStops:[{offset:0,color:'#0000ff'},{offset:0.5,color:'#ffffff'},{offset:1,color:'#ff0000'}]});
T(648,719,'{b|Gene expression}',14);
T(648,737,'Low',14); T(755,737,'High',14,{al:'right'});
Rc(649,747,100,10,{type:'linear',x:0,y:0,x2:1,y2:0,colorStops:[{offset:0,color:'#000070'},{offset:0.5,color:'#ffffff'},{offset:1,color:'#ffa500'}]});
// G legend & significance
G.push({type:'circle', z:100, silent:true, shape:{cx:48, cy:815, r:4}, style:{fill:'#ff2b1c'}});
T(58,815,'{n|Pathogenic }{i|K/N}{s|MUT}',11);
G.push({type:'circle', z:100, silent:true, shape:{cx:48, cy:828, r:4}, style:{fill:'#0b1a8e'}});
T(58,828,'{i|K/N}{s|WT/Passenger}',11);
L(82,862,123,862,'#000',1.5); T(103,856,'*',12,{al:'center'});
// H / I strip labels
T(284,819,'{b|High NFE2L2 sig.}',10.5,{al:'center'});
T(432,819,'{b|Low NFE2L2 sig.}',10.5,{al:'center'});
T(241,833,'ssGSEA score',10.5,{al:'right'});
T(241,847,'{i|K/N}{n| mutation}',10.5,{al:'right'});
T(633,819,'{b|High NFE2L2 sig.}',10.5,{al:'center'});
T(752,819,'{b|Low NFE2L2 sig.}',10.5,{al:'center'});
T(600,833,'ssGSEA score',10.5,{al:'right'});
T(600,847,'{i|K/N}{n| mutation}',10.5,{al:'right'});

// ================= RENDER =================
const chart = echarts.init(document.getElementById('c'), null, {renderer:'canvas', width:829, height:1050});
chart.setOption({animation:false, backgroundColor:'#ffffff', textStyle:{fontFamily:FF},
  grid:grids, xAxis:xAxes, yAxis:yAxes, series, graphic:{elements:G}});
</script></body></html>
